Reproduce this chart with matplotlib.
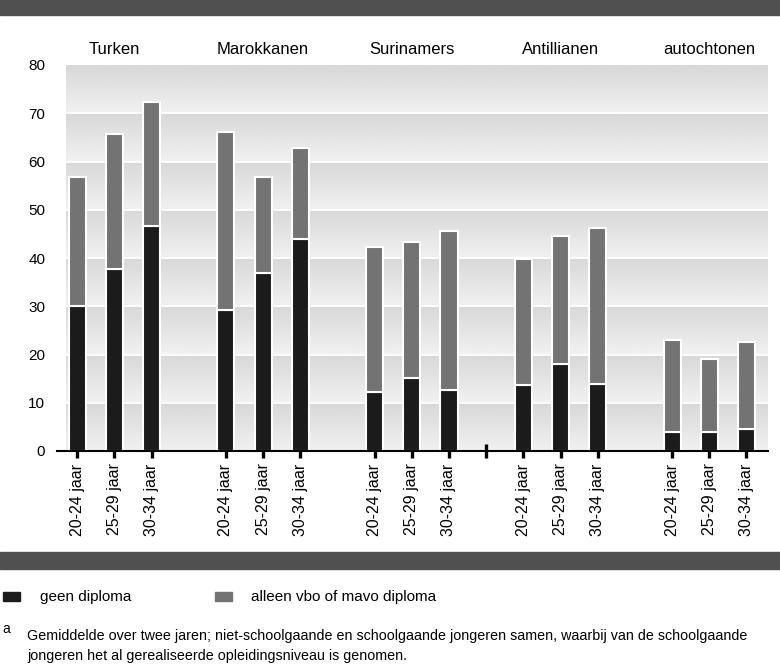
import numpy as np
import matplotlib
matplotlib.use("Agg")
import matplotlib.pyplot as plt
from matplotlib import font_manager

groups = ["Turken", "Marokkanen", "Surinamers", "Antillianen", "autochtonen"]
ages = ["20-24 jaar", "25-29 jaar", "30-34 jaar"]
geen_diploma = [30.1, 37.8, 46.7, 29.2, 36.9, 44.0, 12.2, 15.2, 12.6, 13.7, 18.1, 13.9, 4.0, 3.9, 4.5]
totaal = [56.8, 65.8, 72.4, 66.2, 56.8, 62.8, 42.3, 43.3, 45.6, 39.8, 44.6, 46.2, 23.1, 19.1, 22.5]
alleen_vbo_mavo = [t - g for t, g in zip(totaal, geen_diploma)]
legend_labels = ["geen diploma", "alleen vbo of mavo diploma"]
footnote = ("Gemiddelde over twee jaren; niet-schoolgaande en schoolgaande jongeren samen, waarbij van de schoolgaande\n"
            "jongeren het al gerealiseerde opleidingsniveau is genomen.")

avail = {f.name for f in font_manager.fontManager.ttflist}
fam = ["Liberation Sans Narrow", "DejaVu Sans"] if "Liberation Sans Narrow" in avail else ["Liberation Sans", "DejaVu Sans"]
plt.rcParams["font.family"] = fam

# slot positions: 3 bars per group with an empty slot between groups
pos = []
for gi in range(len(groups)):
    for ai in range(len(ages)):
        pos.append(gi * 4 + ai)
pos = np.array(pos, dtype=float)
extra_tick = 11.0

fig = plt.figure(figsize=(7.8, 6.67), dpi=100)
W, H = 780, 667
def fx(px): return px / W
def fy(py): return 1 - py / H

ax = fig.add_axes([fx(66), fy(451), fx(768) - fx(66), fy(65) - fy(451)])
x0, x1 = -0.3, 18.58
ax.set_xlim(x0, x1)
ax.set_ylim(0, 80)

# gradient background bands
n = 800
v = (np.arange(n) + 0.5) / n * 80
frac = (v % 10) / 10.0
light, dark = 0.945, 0.845
col = light + (dark - light) * frac
img = np.repeat(col[:, None], 2, axis=1)
ax.imshow(img, cmap="gray", vmin=0, vmax=1, aspect="auto", origin="lower",
          extent=[x0, x1, 0, 80], zorder=0, interpolation="bilinear")
for yv in range(10, 80, 10):
    ax.axhline(yv, color="white", lw=1.3, zorder=1)

bw = 0.46
ax.bar(pos, geen_diploma, width=bw, color="#1b1b1b", edgecolor="white", linewidth=1.5, zorder=2)
ax.bar(pos, alleen_vbo_mavo, bottom=geen_diploma, width=bw, color="#737373", edgecolor="white", linewidth=1.5, zorder=2)

for s in ax.spines.values():
    s.set_visible(False)
ax.plot([-0.013, 1], [0, 0], transform=ax.transAxes, color="black", lw=1.5, clip_on=False, zorder=3)

ticks = list(pos) + [extra_tick]
labels = ages * len(groups) + [""]
ax.set_xticks(ticks)
ax.set_xticklabels(labels, rotation=90, fontsize=11.5)
ax.tick_params(axis="x", direction="inout", length=10, width=2.4, color="black", pad=4)
ax.set_yticks(range(0, 81, 10))
ax.tick_params(axis="y", length=0, pad=15, labelsize=11)

for gi, g in enumerate(groups):
    cx = gi * 4 + 1
    ax.text(cx, 1.04, g, transform=ax.get_xaxis_transform(), ha="center", va="center", fontsize=12)

# top and bottom dark bands
fig.add_artist(plt.Rectangle((0, fy(15)), 1, fy(0) - fy(15), transform=fig.transFigure, color="#505050"))
fig.add_artist(plt.Rectangle((0, fy(569)), 1, fy(552) - fy(569), transform=fig.transFigure, color="#505050"))

# legend
fig.add_artist(plt.Rectangle((fx(3), fy(601)), fx(17), fy(592) - fy(601), transform=fig.transFigure, color="#1b1b1b"))
fig.text(fx(40), fy(597), legend_labels[0], fontsize=11, va="center")
fig.add_artist(plt.Rectangle((fx(215), fy(601)), fx(17), fy(592) - fy(601), transform=fig.transFigure, color="#737373"))
fig.text(fx(251), fy(597), legend_labels[1], fontsize=11, va="center")

fig.text(fx(2), fy(629), "a", fontsize=10, va="center")
fig.text(fx(27), fy(646), footnote, fontsize=10.3, va="center", linespacing=1.55)

fig.savefig("out.png", dpi=100)
